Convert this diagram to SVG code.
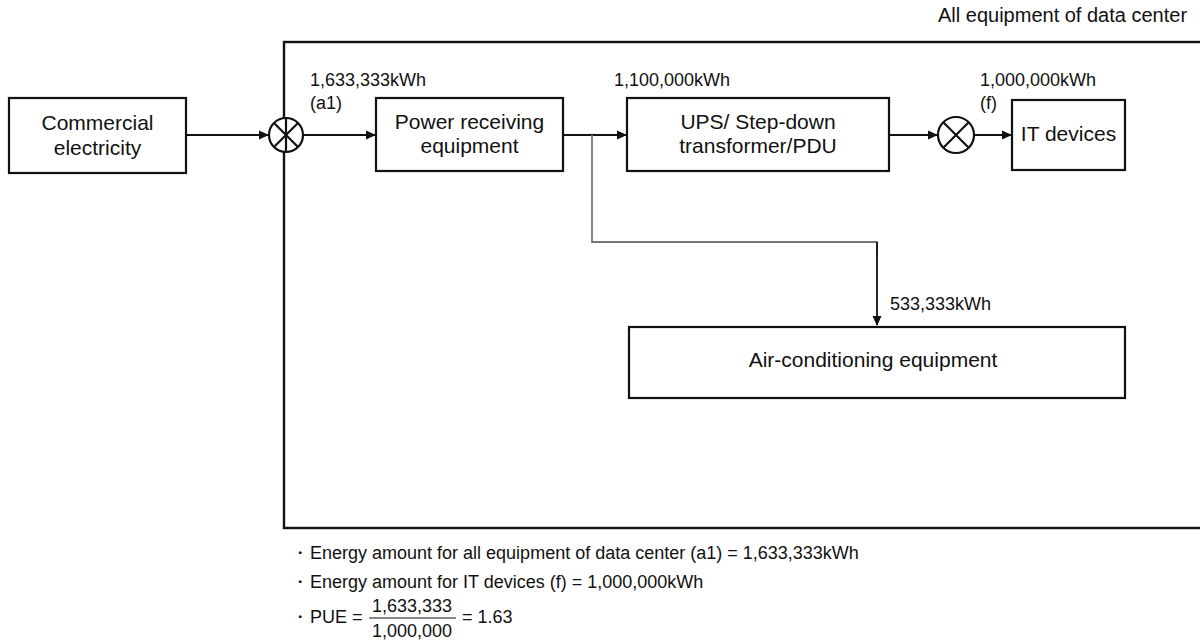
<svg xmlns="http://www.w3.org/2000/svg" width="1200" height="644" viewBox="0 0 1200 644">
<style>
.box{fill:#fff;stroke:#111;stroke-width:2.2}
.t{font-family:"Liberation Sans",Arial,sans-serif;fill:#111}
.n{font-size:21px}
.s{font-size:18px}
.c{stroke:#111;stroke-width:1.8;fill:none}
.g{stroke:#777;stroke-width:1.8;fill:none}
</style>
<defs>
<marker id="ah" markerWidth="10" markerHeight="10" refX="9" refY="5" orient="auto" markerUnits="userSpaceOnUse">
<path d="M0,0.5 L10,5 L0,9.5 Z" fill="#111"/>
</marker>
</defs>
<rect width="1200" height="644" fill="#fff"/>
<g id="boundary">
<rect x="284" y="42" width="930" height="486" fill="none" stroke="#111" stroke-width="2.4"/>
<text class="t" x="938" y="22" font-size="20">All equipment of data center</text>
</g>
<g id="connectors">
<line class="c" x1="186" y1="135" x2="268" y2="135" marker-end="url(#ah)"/>
<line class="c" x1="303" y1="135" x2="375" y2="135" marker-end="url(#ah)"/>
<line class="c" x1="563" y1="135" x2="626" y2="135" marker-end="url(#ah)"/>
<polyline class="g" points="592,135 592,242 877,242 877,255"/>
<line class="c" x1="877" y1="242" x2="877" y2="325" marker-end="url(#ah)"/>
<line class="c" x1="889" y1="135" x2="937" y2="135" marker-end="url(#ah)"/>
<line class="c" x1="974" y1="135" x2="1011" y2="135" marker-end="url(#ah)"/>
<text class="t s" x="310" y="86">1,633,333kWh</text>
<text class="t s" x="310" y="109">(a1)</text>
<text class="t s" x="614" y="86">1,100,000kWh</text>
<text class="t s" x="980" y="86">1,000,000kWh</text>
<text class="t s" x="980" y="109">(f)</text>
<text class="t s" x="890" y="310">533,333kWh</text>
</g>
<g id="commercial">
<rect class="box" x="9" y="98" width="177" height="75"/>
<text class="t n" x="97.5" y="130" text-anchor="middle">Commercial</text>
<text class="t n" x="97.5" y="155" text-anchor="middle">electricity</text>
</g>
<g id="meter1">
<circle cx="286" cy="135" r="17" fill="#fff" stroke="#111" stroke-width="2.2"/>
<path d="M274,123 L298,147 M298,123 L274,147" stroke="#111" stroke-width="2.2"/>
<line x1="286" y1="118" x2="286" y2="152" stroke="#111" stroke-width="2.2"/>
</g>
<g id="power">
<rect class="box" x="376" y="98" width="187" height="73"/>
<text class="t n" x="469.5" y="129" text-anchor="middle">Power receiving</text>
<text class="t n" x="469.5" y="153" text-anchor="middle">equipment</text>
</g>
<g id="ups">
<rect class="box" x="627" y="98" width="262" height="73"/>
<text class="t n" x="758" y="129" text-anchor="middle">UPS/ Step-down</text>
<text class="t n" x="758" y="153" text-anchor="middle">transformer/PDU</text>
</g>
<g id="meter2">
<circle cx="956" cy="135" r="18" fill="#fff" stroke="#111" stroke-width="2.2"/>
<path d="M943.3,122.3 L968.7,147.7 M968.7,122.3 L943.3,147.7" stroke="#111" stroke-width="2.2"/>
</g>
<g id="it">
<rect class="box" x="1012" y="100" width="113" height="70"/>
<text class="t n" x="1068.5" y="141" text-anchor="middle">IT devices</text>
</g>
<g id="aircon">
<rect class="box" x="629" y="327" width="496" height="71"/>
<text class="t n" x="873" y="367" text-anchor="middle">Air-conditioning equipment</text>
</g>
<g id="notes">
<text class="t s" x="291" y="559">・</text>
<text class="t s" x="310" y="559">Energy amount for all equipment of data center (a1) = 1,633,333kWh</text>
<text class="t s" x="291" y="588">・</text>
<text class="t s" x="310" y="588">Energy amount for IT devices (f) = 1,000,000kWh</text>
<text class="t s" x="291" y="623">・</text>
<text class="t s" x="310" y="623">PUE =</text>
<text class="t s" x="412" y="612" text-anchor="middle">1,633,333</text>
<line x1="369" y1="618" x2="456" y2="618" stroke="#111" stroke-width="1.2"/>
<text class="t s" x="412" y="637" text-anchor="middle">1,000,000</text>
<text class="t s" x="462" y="623">= 1.63</text>
</g>
</svg>
